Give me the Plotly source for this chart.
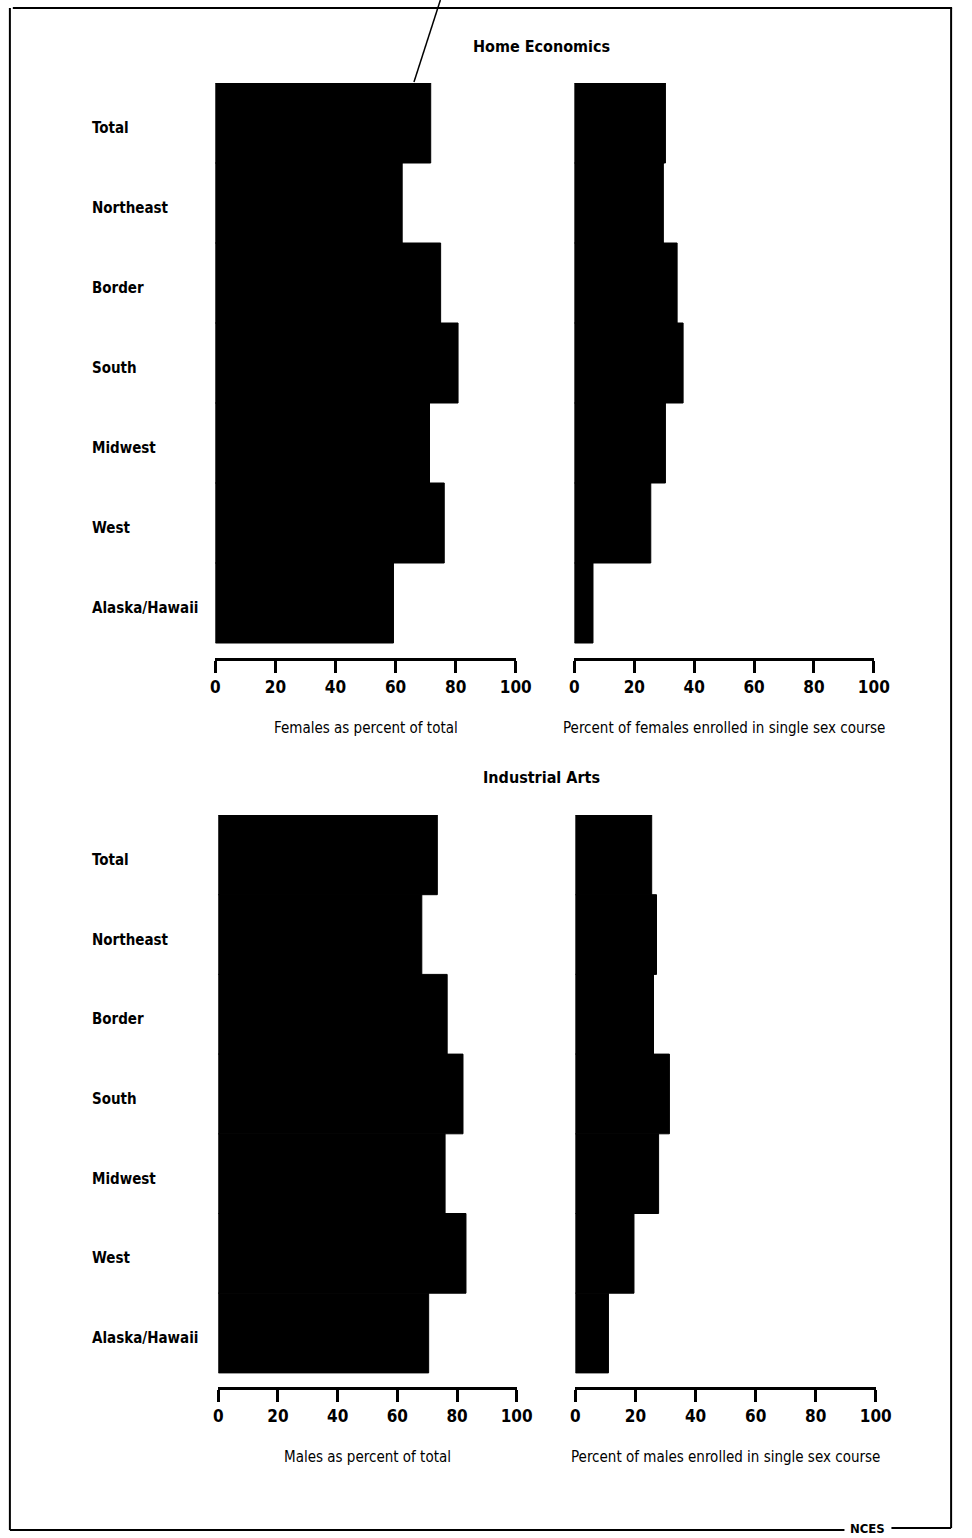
import plotly.graph_objects as go

W, H = 972, 1538

regions = ["Total", "Northeast", "Border", "South", "Midwest", "West", "Alaska/Hawaii"]

he_females_pct_total = [71.7, 62.2, 75.0, 80.8, 71.3, 76.2, 59.3]
he_females_single_sex = [30.4, 29.7, 34.3, 36.3, 30.4, 25.5, 6.2]
ia_males_pct_total = [73.4, 68.2, 76.7, 82.0, 76.0, 83.0, 70.5]
ia_males_single_sex = [25.4, 27.0, 26.0, 31.3, 27.7, 19.5, 11.0]

tick_vals = [0, 20, 40, 60, 80, 100]
tick_text = ["0", "20", "40", "60", "80", "100"]

section_titles = ["Home Economics", "Industrial Arts"]
axis_titles = [
    "Females as percent of total",
    "Percent of females enrolled in single sex course",
    "Males as percent of total",
    "Percent of males enrolled in single sex course",
]

FONT = "DejaVu Sans Condensed, Liberation Sans Narrow, Arial Narrow, sans-serif"

def px_x(p):
    return p / W

def px_y(p):
    return 1 - p / H

# panel geometry (pixels): x0 (value 0), x100 (value 100), top of bars, axis line
panels = [
    dict(data=he_females_pct_total, x0=215, x1=522, top=83, axis=658),
    dict(data=he_females_single_sex, x0=582, x1=888, top=83, axis=658),
    dict(data=ia_males_pct_total, x0=218, x1=523, top=815, axis=1387),
    dict(data=ia_males_single_sex, x0=583, x1=890, top=815, axis=1387),
]

fig = go.Figure()
layout = dict(
    height=H, autosize=True,
    margin=dict(l=0, r=0, t=0, b=0, pad=0),
    paper_bgcolor="white", plot_bgcolor="white",
    showlegend=False,
    font=dict(family=FONT, color="black"),
)

n = len(regions)
ypos = list(range(n))
annotations = []
for i, p in enumerate(panels):
    k = "" if i == 0 else str(i + 1)
    fig.add_trace(go.Bar(
        x=p["data"], y=ypos, orientation="h", width=1.0,
        marker=dict(color="black", line=dict(width=1, color="black")),
        xaxis="x" + k, yaxis="y" + k, hoverinfo="x+y",
    ))
    bar_h = 80.0 if i < 2 else 79.7
    pad = (p["axis"] - p["top"] - n * bar_h) / bar_h
    layout["xaxis" + k] = dict(
        domain=[px_x(p["x0"]), px_x(p["x1"])],
        anchor="y" + k, range=[0, 100],
        tickvals=tick_vals, ticktext=tick_text,
        ticks="outside", ticklen=12, tickwidth=2.5, tickcolor="black",
        showline=True, linewidth=2.5, linecolor="black",
        showgrid=False, zeroline=False,
        tickfont=dict(family=FONT, size=17, color="black", weight="bold"),
    )
    layout["yaxis" + k] = dict(
        domain=[px_y(p["axis"]), px_y(p["top"])],
        anchor="x" + k,
        range=[n - 0.5 + pad, -0.5],
        visible=False, showgrid=False, zeroline=False,
        fixedrange=True,
    )
    annotations.append(dict(
        text=axis_titles[i], xref="paper", yref="paper",
        x=px_x((p["x0"] + p["x1"]) / 2), y=px_y(p["axis"] + 70),
        xanchor="center", yanchor="middle", showarrow=False,
        font=dict(family=FONT, size=15, color="black"),
    ))
    if i % 2 == 0:
        for j, r in enumerate(regions):
            annotations.append(dict(
                text=r, xref="paper", yref="y" + k,
                x=px_x(87), y=j, xanchor="left", yanchor="middle",
                yshift=-5, showarrow=False,
                font=dict(family=FONT, size=15, color="black", weight="bold"),
            ))

annotations.append(dict(text="<b>" + section_titles[0] + "</b>", xref="paper", yref="paper",
                        x=px_x(548), y=px_y(46), xanchor="center", yanchor="middle",
                        showarrow=False, font=dict(family=FONT, size=16, color="black")))
annotations.append(dict(text="<b>" + section_titles[1] + "</b>", xref="paper", yref="paper",
                        x=px_x(548), y=px_y(777), xanchor="center", yanchor="middle",
                        showarrow=False, font=dict(family=FONT, size=16, color="black")))
annotations.append(dict(text="<b>NCES</b>", xref="paper", yref="paper",
                        x=px_x(882), y=px_y(1528), xanchor="center", yanchor="middle",
                        showarrow=False, font=dict(family=FONT, size=13, color="black")))

shapes = [
    dict(type="line", xref="paper", yref="paper", x0=px_x(8), x1=px_x(968), y0=px_y(8), y1=px_y(8),
         line=dict(color="black", width=2)),
    dict(type="line", xref="paper", yref="paper", x0=px_x(5), x1=px_x(5), y0=px_y(8), y1=px_y(1530),
         line=dict(color="black", width=2)),
    dict(type="line", xref="paper", yref="paper", x0=px_x(967), x1=px_x(967), y0=px_y(8), y1=px_y(1528),
         line=dict(color="black", width=2)),
    dict(type="line", xref="paper", yref="paper", x0=px_x(5), x1=px_x(858), y0=px_y(1530), y1=px_y(1530),
         line=dict(color="black", width=2)),
    dict(type="line", xref="paper", yref="paper", x0=px_x(906), x1=px_x(967), y0=px_y(1528), y1=px_y(1528),
         line=dict(color="black", width=2)),
    dict(type="line", xref="paper", yref="paper", x0=px_x(445), x1=px_x(418), y0=px_y(0), y1=px_y(82),
         line=dict(color="black", width=1.5)),
]

layout["annotations"] = annotations
layout["shapes"] = shapes
fig.update_layout(**layout)

post = (
    "document.documentElement.style.margin='0';"
    "document.documentElement.style.overflow='hidden';"
    "document.body.style.margin='0';"
    "document.body.style.overflow='hidden';"
    "var gd=document.getElementById('{plot_id}');"
    "Plotly.relayout(gd,{width: window.innerWidth, height: 1538});"
)
fig.write_html(
    "out.html",
    config={"responsive": True, "displayModeBar": False},
    default_width="100%", default_height="1538px",
    post_script=post,
)
